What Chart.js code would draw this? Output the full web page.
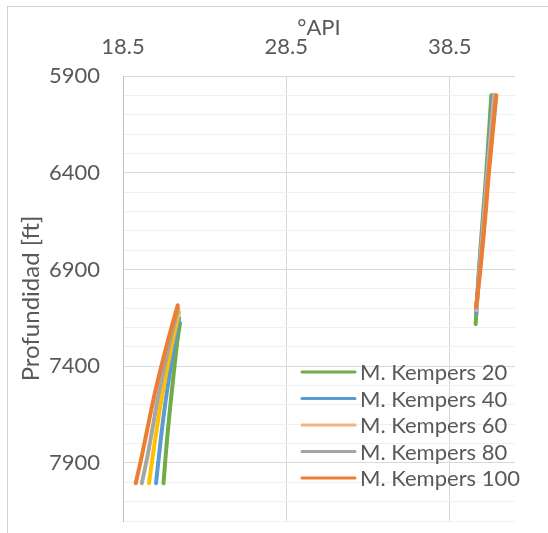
<!DOCTYPE html>
<html>
<head>
<meta charset="utf-8">
<script src="https://cdn.jsdelivr.net/npm/chart.js@4.4.1/dist/chart.umd.min.js"></script>
<style>
  html, body { margin: 0; padding: 0; background: #fff; }
  #wrap { position: relative; width: 548px; height: 533px; overflow: hidden; }
  #marco { position: absolute; left: 7px; top: 6px; width: 600px; height: 600px; border-left: 1px solid #d0d0d0; border-top: 1px solid #d0d0d0; }
  canvas { position: absolute; left: 0; top: 0; }
</style>
</head>
<body>
<div id="wrap"><div id="marco"></div><canvas id="grafico" width="548" height="533"></canvas></div>
<script>
// Series del gráfico (profundidad en ft vs °API)
const nombres = ['M. Kempers 20', 'M. Kempers 40', 'M. Kempers 60', 'M. Kempers 80', 'M. Kempers 100'];
const colores = ['#70AD47', '#5B9BD5', '#F4B183', '#A5A5A5', '#ED7D31'];
const colorInf60 = '#FFC000'; // el tramo inferior de la serie 60 sale en amarillo

// Tramo superior (zona de ~40 °API)
const profSup20 = [6000, 6400, 6610, 6900, 7182];
const apiSup20 = [41.05, 40.74, 40.55, 40.29, 40.09];
const profSup40 = [6000, 6400, 6610, 6900, 7128];
const apiSup40 = [41.15, 40.78, 40.59, 40.31, 40.13];
const profSup60 = [6000, 6400, 6610, 6900, 7110];
const apiSup60 = [41.23, 40.82, 40.62, 40.33, 40.15];
const profSup80 = [6000, 6400, 6610, 6900, 7100];
const apiSup80 = [41.30, 40.86, 40.66, 40.35, 40.12];
const profSup100 = [6000, 6400, 6610, 6900, 7092];
const apiSup100 = [41.36, 40.90, 40.70, 40.38, 40.12];

// Tramo inferior (zona de ~20 °API)
const profInf20 = [7177, 7290, 7520, 7695, 7865, 8005];
const apiInf20 = [21.99, 21.80, 21.50, 21.29, 21.11, 20.98];
const profInf40 = [7150, 7290, 7520, 7695, 7865, 8005];
const apiInf40 = [21.94, 21.64, 21.21, 20.93, 20.70, 20.52];
const profInf60 = [7120, 7290, 7520, 7695, 7865, 8005];
const apiInf60 = [21.93, 21.49, 20.96, 20.62, 20.32, 20.09];
const profInf80 = [7100, 7290, 7520, 7695, 7865, 8005];
const apiInf80 = [21.88, 21.33, 20.74, 20.36, 20.00, 19.65];
const profInf100 = [7085, 7290, 7520, 7695, 7865, 8005];
const apiInf100 = [21.85, 21.18, 20.50, 20.06, 19.65, 19.28];

// Ejes
const ticksApi = [18.5, 28.5, 38.5];
const apiMin = 18.5, apiMax = 42.5;
const profMin = 5900, profMax = 8200;
const pasoMenor = 100, pasoMayor = 500;

const tramosSup = [[profSup20, apiSup20], [profSup40, apiSup40], [profSup60, apiSup60], [profSup80, apiSup80], [profSup100, apiSup100]];
const tramosInf = [[profInf20, apiInf20], [profInf40, apiInf40], [profInf60, apiInf60], [profInf80, apiInf80], [profInf100, apiInf100]];

function puntos(prof, api) {
    return prof.map((p, i) => ({ x: api[i], y: p }));
}

const datasets = [];
nombres.forEach(function(nombre, i) {
    const base = {
        label: nombre,
        showLine: true,
        borderWidth: 4,
        pointRadius: 0,
        tension: 0.35,
        borderCapStyle: 'round',
        borderJoinStyle: 'round',
        order: nombres.length - i
    };
    datasets.push(Object.assign({}, base, {
        data: puntos(tramosSup[i][0], tramosSup[i][1]),
        borderColor: colores[i]
    }));
    datasets.push(Object.assign({}, base, {
        data: puntos(tramosInf[i][0], tramosInf[i][1]),
        borderColor: i === 2 ? colorInf60 : colores[i]
    }));
});

const fuente = 'Lato';
const tamFuente = 22;
const gris = '#595959';

// Leyenda dibujada dentro del área del gráfico
const leyendaInterna = {
    id: 'leyendaInterna',
    afterDraw(chart) {
        const area = chart.chartArea;
        const ctx = chart.ctx;
        const x0 = area.left + 179;
        const y0 = area.top + 296;
        ctx.save();
        ctx.font = tamFuente + 'px ' + fuente;
        ctx.textBaseline = 'middle';
        ctx.textAlign = 'left';
        ctx.lineCap = 'round';
        ctx.lineWidth = 3;
        nombres.forEach(function(nombre, i) {
            const y = y0 + i * 26.5;
            ctx.strokeStyle = colores[i];
            ctx.beginPath();
            ctx.moveTo(x0, y);
            ctx.lineTo(x0 + 53, y);
            ctx.stroke();
            ctx.fillStyle = gris;
            ctx.fillText(nombre, x0 + 58, y + 1);
        });
        ctx.restore();
    }
};

const ctx = document.getElementById('grafico').getContext('2d');
new Chart(ctx, {
    type: 'scatter',
    data: { datasets: datasets },
    plugins: [leyendaInterna],
    options: {
        responsive: false,
        animation: false,
        layout: { padding: { left: 0, top: 0, right: 33, bottom: 0 } },
        plugins: {
            legend: { display: false },
            tooltip: { enabled: false }
        },
        scales: {
            x: {
                type: 'linear',
                position: 'top',
                min: apiMin,
                max: apiMax,
                afterBuildTicks: function(scale) {
                    scale.ticks = ticksApi.map(v => ({ value: v }));
                },
                afterFit: function(scale) { scale.height = 76; },
                grid: {
                    drawTicks: false,
                    color: ctx => ctx.tick && ctx.tick.value === apiMin ? '#bfbfbf' : '#d9d9d9'
                },
                border: { display: false },
                ticks: {
                    padding: 16,
                    color: gris,
                    font: { family: fuente, size: tamFuente },
                    callback: v => v.toFixed(1)
                },
                title: {
                    display: true,
                    text: '°API',
                    color: gris,
                    font: { family: fuente, size: tamFuente },
                    padding: { top: 15, bottom: 0 }
                }
            },
            y: {
                type: 'linear',
                reverse: true,
                min: profMin,
                max: profMax,
                afterBuildTicks: function(scale) {
                    const t = [];
                    for (let v = profMin; v <= profMax; v += pasoMenor) t.push({ value: v });
                    scale.ticks = t;
                },
                afterFit: function(scale) {
                    scale.width = 123;
                    scale.paddingBottom = 12;
                },
                grid: {
                    drawTicks: false,
                    color: ctx => ctx.tick && (ctx.tick.value - profMin) % pasoMayor === 0 ? '#d9d9d9' : '#f0f0f0'
                },
                border: { display: true, color: '#bfbfbf', width: 1 },
                ticks: {
                    autoSkip: false,
                    padding: 23,
                    color: gris,
                    font: { family: fuente, size: tamFuente },
                    callback: v => (v - profMin) % pasoMayor === 0 ? v : ''
                },
                title: {
                    display: true,
                    text: 'Profundidad [ft]',
                    color: gris,
                    font: { family: fuente, size: 24 },
                    padding: { top: 17, bottom: 0 }
                }
            }
        }
    }
});
</script>
</body>
</html>
